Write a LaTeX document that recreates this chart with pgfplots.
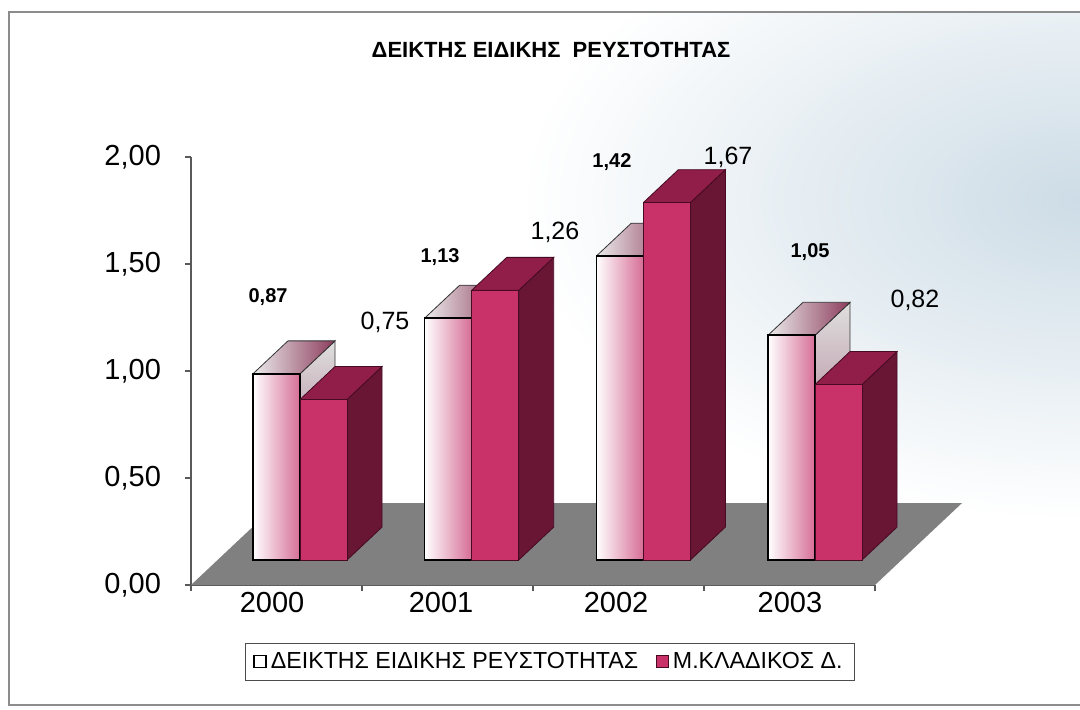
\documentclass[border=0pt]{standalone}
\usepackage{fontspec}
\setmainfont{Liberation Sans}
\usepackage{pgfplots}
\pgfplotsset{compat=1.18}
\usepackage{pgfplotstable}

\definecolor{pinkF}{RGB}{200,50,105}
\definecolor{pinkL}{RGB}{214,110,150}
\definecolor{pinkSide}{RGB}{105,22,52}
\definecolor{pinkTop}{RGB}{145,30,72}
\definecolor{pinkE}{RGB}{70,10,35}
\definecolor{mauve}{RGB}{140,60,92}
\definecolor{floorgray}{RGB}{128,128,128}
\definecolor{bgB}{RGB}{205,220,230}

\pgfplotstableread{
c w m wlx wly mlx mly
0 0.87 0.75 -0.186 1.229 0.495 1.112
1 1.13 1.26 0.816 1.416 1.485 1.533
2 1.42 1.67 1.817 1.860 2.493 1.883
3 1.05 0.82 2.971 1.439 3.582 1.215
}\data

% side and top face of a bar drawn as a prism
\newcommand\prism[5]{%
  \pgfplotstablegetelem{#1}{#2}\of\data
  \let\myv\pgfplotsretval
  \pgfmathsetmacro\xa{#1+#3}%
  \pgfmathsetmacro\xb{\xa+0.274}%
  \pgfmathsetmacro\xc{\xb+0.204}%
  \pgfmathsetmacro\xd{\xa+0.204}%
  \pgfmathsetmacro\vt{\myv+0.154}%
  \edef\temp{%
    \noexpand\addplot[forget plot,#4] coordinates {(\xb,0) (\xc,0.154) (\xc,\vt) (\xb,\myv) (\xb,0)};%
    \noexpand\addplot[forget plot,#5] coordinates {(\xa,\myv) (\xb,\myv) (\xc,\vt) (\xd,\vt) (\xa,\myv)};%
  }\temp}
% shaded front face of one bar
\newcommand\front[4]{%
  \pgfplotstablegetelem{#1}{#2}\of\data
  \let\myv\pgfplotsretval
  \pgfmathsetmacro\xa{#1+#3}%
  \pgfmathsetmacro\xb{\xa+0.274}%
  \edef\temp{%
    \noexpand\addplot[forget plot,#4] coordinates {(\xa,0) (\xb,0) (\xb,\myv) (\xa,\myv) (\xa,0)};%
  }\temp}

\begin{document}
\begin{tikzpicture}[x=0.5pt,y=-0.5pt]
\useasboundingbox (0,0) rectangle (1080,710);
\fill[white] (0,0) rectangle (1080,710);
\begin{scope}
\clip (9,12) rectangle (1080,705);
\shade[inner color=bgB, outer color=white] (1080,200) ellipse [x radius=560, y radius=320];
\end{scope}

\begin{axis}[
  at={(150pt,-280pt)}, anchor=origin,
  x=85.835pt, y=107pt,
  xmin=-0.635, xmax=3.349, ymin=-0.117, ymax=1.883,
  axis x line*=bottom, axis y line*=left,
  axis line style={draw=black!65, line width=0.6pt},
  clip=false,
  tick align=outside, major tick length=3pt,
  tick style={black!65, line width=0.6pt},
  ytick={-0.117,0.383,0.883,1.383,1.883},
  yticklabels={{0,00},{0,50},{1,00},{1,50},{2,00}},
  yticklabel style={xshift=-8.5pt},
  xtick={-0.635,0.361,1.357,2.353,3.349},
  xticklabels={},
  extra x ticks={-0.163,0.822,1.841,2.854},
  extra x tick labels={2000,2001,2002,2003},
  extra x tick style={major tick length=0pt},
  ticklabel style={font=\fontsize{14.5}{16}\selectfont},
  /pgf/number format/assume math mode=true,
  /pgf/number format/use comma,
  /pgf/number format/fixed,
  /pgf/number format/fixed zerofill,
  /pgf/number format/precision=2,
  legend columns=2,
  legend style={at={(0.525,-0.179)}, anchor=center, draw=black!70, fill=white,
    font=\fontsize{11.6}{13}\selectfont, inner xsep=4pt, inner ysep=2.5pt,
    /tikz/every even column/.append style={column sep=7pt}},
  legend image code/.code={\draw[#1] (0pt,-3pt) rectangle (6pt,3pt);},
]
% floor
\addplot[forget plot, fill=floorgray, draw=none] coordinates {(-0.635,-0.117) (3.349,-0.117) (3.856,0.266) (-0.128,0.266) (-0.635,-0.117)};

% white bars
\prism{0}{w}{-0.274}{draw=black!80, line width=0.4pt, top color=white!75!gray, bottom color=mauve}{draw=black!80, line width=0.4pt, left color=white!85!gray, right color=mauve}
\prism{1}{w}{-0.274}{draw=black!80, line width=0.4pt, top color=white!75!gray, bottom color=mauve}{draw=black!80, line width=0.4pt, left color=white!85!gray, right color=mauve}
\prism{2}{w}{-0.274}{draw=black!80, line width=0.4pt, top color=white!75!gray, bottom color=mauve}{draw=black!80, line width=0.4pt, left color=white!85!gray, right color=mauve}
\prism{3}{w}{-0.274}{draw=black!80, line width=0.4pt, top color=white!75!gray, bottom color=mauve}{draw=black!80, line width=0.4pt, left color=white!85!gray, right color=mauve}
\front{0}{w}{-0.274}{draw=none, left color=white, middle color=white, right color=pinkL}
\front{1}{w}{-0.274}{draw=none, left color=white, middle color=white, right color=pinkL}
\front{2}{w}{-0.274}{draw=none, left color=white, middle color=white, right color=pinkL}
\front{3}{w}{-0.274}{draw=none, left color=white, middle color=white, right color=pinkL}
\addplot[ybar, forget plot, bar width=0.274, bar shift=-0.137, draw=black, line width=0.8pt,
  fill=none] table[x=c,y=w]{\data};

% pink bars
\prism{0}{m}{0}{draw=pinkE, line width=0.4pt, fill=pinkSide}{draw=pinkE, line width=0.4pt, fill=pinkTop}
\prism{1}{m}{0}{draw=pinkE, line width=0.4pt, fill=pinkSide}{draw=pinkE, line width=0.4pt, fill=pinkTop}
\prism{2}{m}{0}{draw=pinkE, line width=0.4pt, fill=pinkSide}{draw=pinkE, line width=0.4pt, fill=pinkTop}
\prism{3}{m}{0}{draw=pinkE, line width=0.4pt, fill=pinkSide}{draw=pinkE, line width=0.4pt, fill=pinkTop}
\addplot[ybar, forget plot, bar width=0.274, bar shift=0.137, draw=pinkE, line width=0.4pt,
  fill=pinkF] table[x=c,y=m]{\data};

% value labels
\addplot[forget plot, draw=none, mark=none, point meta=\thisrow{w}, nodes near coords,
  nodes near coords style={anchor=center, font=\bfseries\fontsize{10}{12}\selectfont}]
  table[x=wlx,y=wly]{\data};
\addplot[forget plot, draw=none, mark=none, point meta=\thisrow{m}, nodes near coords,
  nodes near coords style={anchor=center, font=\fontsize{12.5}{14}\selectfont}]
  table[x=mlx,y=mly]{\data};

\addlegendimage{fill=white, draw=black, line width=0.7pt}
\addlegendentry{ΔΕΙΚΤΗΣ ΕΙΔΙΚΗΣ ΡΕΥΣΤΟΤΗΤΑΣ}
\addlegendimage{fill=pinkF, draw=pinkE, line width=0.4pt}
\addlegendentry{Μ.ΚΛΑΔΙΚΟΣ Δ.}
\end{axis}

\node at (551,50) {\bfseries\fontsize{11}{13}\selectfont ΔΕΙΚΤΗΣ ΕΙΔΙΚΗΣ\ \ ΡΕΥΣΤΟΤΗΤΑΣ};
\draw[black!45, line width=0.6pt] (1085,12) -- (9,12) -- (9,705) -- (1085,705);
\end{tikzpicture}
\end{document}
